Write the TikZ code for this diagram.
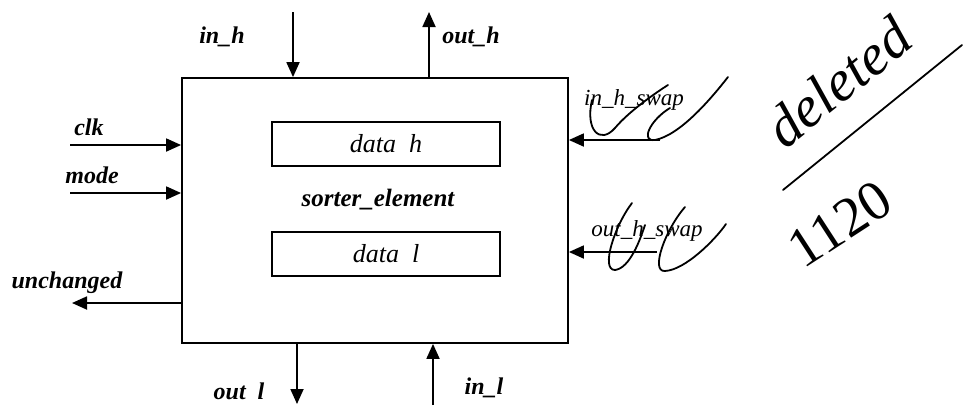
\documentclass[tikz,border=0pt]{standalone}
\usepackage{fontspec}
\setmainfont{Liberation Serif}
\usetikzlibrary{arrows.meta}
\tikzset{
  wire/.style={line width=1.8pt, -{Triangle[length=15pt,width=13pt]}},
  blk/.style={draw, line width=1.8pt, inner sep=0pt},
  lbl/.style={font=\fontsize{24}{26}\selectfont\bfseries\itshape, inner sep=0pt},
  slbl/.style={font=\fontsize{23}{25}\selectfont\itshape, inner sep=0pt},
  hand/.style={line width=1.8pt, line cap=round},
}
\begin{document}
\begin{tikzpicture}[x=1pt,y=-1pt]
\useasboundingbox (0,0) rectangle (966,405);
% blocks
\node[blk, minimum width=386pt, minimum height=265pt] (se) at (375,210.5) {};
\node[blk, minimum width=228pt, minimum height=44pt, font=\fontsize{26}{28}\selectfont\itshape] (datah) at (386,144) {data\ \ h};
\node[blk, minimum width=228pt, minimum height=44pt, font=\fontsize{26}{28}\selectfont\itshape] (datal) at (386,254) {data\ \ l};
\node[font=\fontsize{25}{27}\selectfont\bfseries\itshape, inner sep=0pt] (name) at (378,200) {sorter\_element};
% free ends
\coordinate (inh) at (293,12);
\coordinate (outh) at (429,12);
\coordinate (clk) at (70,145);
\coordinate (mode) at (70,193);
\coordinate (unch) at (72,303);
\coordinate (outl) at (297,404);
\coordinate (inl) at (433,405);
\coordinate (inhs) at (660,140);
\coordinate (ouths) at (657,252);
% connectors
\draw[wire] (inh) -- (inh |- se.north);
\draw[wire] (outh |- se.north) -- (outh);
\draw[wire] (clk) -- (clk -| se.west);
\draw[wire] (mode) -- (mode -| se.west);
\draw[wire] (unch -| se.west) -- (unch);
\draw[wire] (outl |- se.south) -- (outl);
\draw[wire] (inl) -- (inl |- se.south);
\draw[wire] (inhs) -- (inhs -| se.east);
\draw[wire] (ouths) -- (ouths -| se.east);
% labels
\node[lbl] (tinh) at (222,37) {in\_h};
\node[lbl] (touth) at (471,37) {out\_h};
\node[lbl] (tclk) at (89,127) {clk};
\node[lbl] (tmode) at (92,175) {mode};
\node[lbl] (tunch) at (67,283) {unchanged};
\node[lbl] (toutl) at (239,391) {out\ \ l};
\node[lbl] (tinl) at (484,388) {in\_l};
\node[slbl] (tinhs) at (634,100) {in\_h\_swap};
\node[slbl] (touths) at (647,231) {out\_h\_swap};
% handwritten annotations
\node[font=\fontsize{58}{60}\selectfont\itshape, rotate=39, inner sep=0pt] (del) at (838,82) {deleted};
\draw[hand] (783,190) -- (962,45);
\node[font=\fontsize{56}{58}\selectfont, rotate=33, inner sep=0pt] (num) at (840,224) {1120};
\draw[hand] (592,100) .. controls (585,130) and (600,145) .. (615,128) .. controls (630,110) and (660,90) .. (668,85);
\draw[hand] (670,108) .. controls (650,120) and (640,142) .. (655,140) .. controls (680,135) and (710,100) .. (728,77);
\draw[hand] (632,203) .. controls (615,225) and (600,270) .. (615,270) .. controls (630,268) and (640,240) .. (645,225);
\draw[hand] (685,207) .. controls (665,230) and (650,272) .. (665,271) .. controls (685,270) and (715,240) .. (726,224);
\end{tikzpicture}
\end{document}
